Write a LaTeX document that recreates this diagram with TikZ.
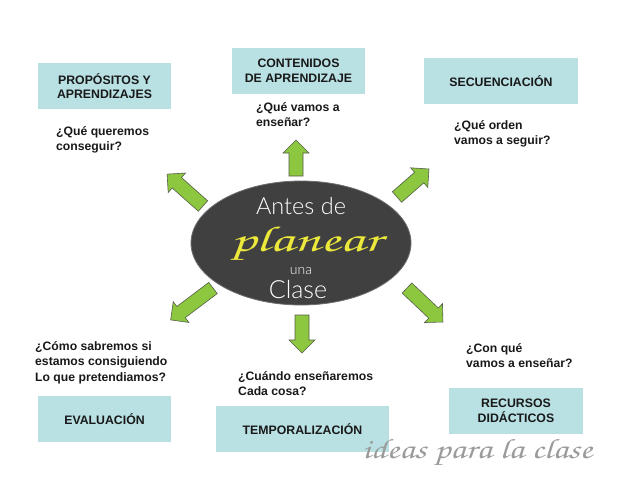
\documentclass[tikz,border=0pt]{standalone}
\usepackage{fontspec}
\setmainfont{Liberation Sans}
\newfontfamily\eliptfont{Lato Light}
\newfontfamily\chorusfont{TeX Gyre Chorus}
\usetikzlibrary{shapes.geometric}
\definecolor{boxfill}{RGB}{185,225,228}
\definecolor{arrowgreen}{RGB}{141,198,63}
\definecolor{arrowedge}{RGB}{85,95,75}
\definecolor{ovalfill}{RGB}{64,64,64}
\definecolor{ovaledge}{RGB}{110,110,110}
\definecolor{planyellow}{RGB}{236,232,60}
\definecolor{textdark}{RGB}{25,25,25}
\definecolor{signgray}{RGB}{155,155,155}
\newcommand\grarrow[4]{%
  \draw[arrowshape, shift={(#1,#2)}, rotate=#3]
    (0,-7) -- ({#4-13},-7) -- ({#4-13},-13) -- (#4,0) -- ({#4-13},13) -- ({#4-13},7) -- (0,7) -- cycle;}
\begin{document}
\begin{tikzpicture}[x=1pt,y=-1pt,
  box/.style={fill=boxfill, minimum width=#1, minimum height=46pt, inner sep=0pt, align=center,
    font=\bfseries\fontsize{12.3}{14.5}\selectfont, text=textdark},
  question/.style={anchor=base west, align=left, inner sep=0pt,
    font=\bfseries\fontsize{12.2}{15.5}\selectfont, text=textdark},
  arrowshape/.style={fill=arrowgreen, draw=arrowedge, line width=0.6pt, line join=miter},
  ovaltext/.style={text=white, inner sep=0pt}]
\useasboundingbox (0,0) rectangle (623,480);
\fill[white] (0,0) rectangle (623,480);

% boxes
\node[box=133pt] (prop) at (104.5,86) {PROPÓSITOS Y\\APRENDIZAJES};
\node[box=133pt] (cont) at (298.5,71) {CONTENIDOS\\DE APRENDIZAJE};
\node[box=154pt] (secu) at (501,81) {SECUENCIACIÓN};
\node[box=133pt] (eval) at (104.5,419) {EVALUACIÓN};
\node[box=173pt] (temp) at (302.5,429) {TEMPORALIZACIÓN};
\node[box=134pt] (recu) at (516,411) {RECURSOS\\DIDÁCTICOS};

% questions (anchored at the baseline of their last line)
\node[question] (q1) at (56,150.5) {¿Qué queremos\\conseguir?};
\node[question] (q2) at (256,126.5) {¿Qué vamos a\\enseñar?};
\node[question] (q3) at (454,144.5) {¿Qué orden\\vamos a seguir?};
\node[question] (q4) at (35,381) {¿Cómo sabremos si\\estamos consiguiendo\\Lo que pretendiamos?};
\node[question] (q5) at (238,395.5) {¿Cuándo enseñaremos\\Cada cosa?};
\node[question] (q6) at (466,367.5) {¿Con qué\\vamos a enseñar?};

% arrows
\grarrow{296}{176}{90}{36}
\grarrow{203}{206}{138.4}{48}
\grarrow{397}{197}{41.2}{42.5}
\grarrow{213}{288}{217}{53}
\grarrow{302}{315}{270}{38}
\grarrow{407}{288}{-43.4}{49.5}

% central oval
\node[ellipse, fill=ovalfill, draw=ovaledge, line width=0.8pt, minimum width=220pt, minimum height=124pt, inner sep=0pt] (oval) at (301,243) {};
\node[ovaltext, font=\eliptfont\fontsize{23.5}{23.5}\selectfont] (antes) at (301,206) {Antes de};
\node[ovaltext, text=planyellow, font=\chorusfont\fontsize{36}{36}\selectfont] (planear) at (306,244) {\scalebox{1.6}[1]{planear}};
\node[ovaltext, font=\eliptfont\fontsize{14}{14}\selectfont] (una) at (301,271) {una};
\node[ovaltext, font=\eliptfont\fontsize{25}{25}\selectfont] (clase) at (298,289) {Clase};

% signature
\node[text=signgray, inner sep=0pt, anchor=base west, font=\chorusfont\fontsize{28}{28}\selectfont] (sign) at (362,458) {\scalebox{1.3}[1]{ideas para la clase}};
\end{tikzpicture}
\end{document}
